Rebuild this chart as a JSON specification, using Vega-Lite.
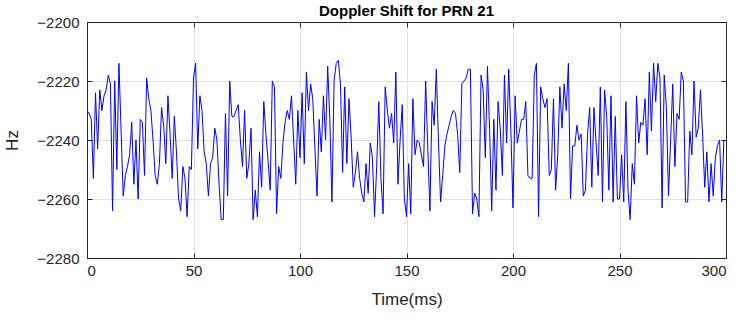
{
  "$schema": "https://vega.github.io/schema/vega-lite/v6.json",
  "autosize": "none",
  "width": 639,
  "height": 236,
  "padding": {"left": 87, "top": 22, "right": 18, "bottom": 62},
  "background": "white",
  "title": {"text": "Doppler Shift for PRN 21", "font": "Liberation Sans", "fontSize": 15, "fontWeight": "bold", "color": "#000000", "offset": -4},
  "config": {
    "view": {"stroke": "#262626", "strokeWidth": 1},
    "axis": {"labelFont": "Liberation Sans", "titleFont": "Liberation Sans", "labelFontSize": 15, "titleFontSize": 17, "titleFontWeight": "normal", "labelColor": "#262626", "titleColor": "#262626", "domainColor": "#262626", "tickColor": "#262626", "gridColor": "#e0e0e0", "gridOpacity": 1}
  },
  "data": {"values": [
{"t":0,"hz":-2230},{"t":1,"hz":-2231},{"t":2,"hz":-2233},{"t":3,"hz":-2253},{"t":4,"hz":-2224},{"t":5,"hz":-2243},{"t":6,"hz":-2223},{"t":7,"hz":-2230},{"t":8,"hz":-2225},{"t":9,"hz":-2223},
{"t":10,"hz":-2218},{"t":11,"hz":-2221},{"t":12,"hz":-2264},{"t":13,"hz":-2220},{"t":14,"hz":-2250},{"t":15,"hz":-2214},{"t":16,"hz":-2237},{"t":17,"hz":-2259},{"t":18,"hz":-2252},{"t":19,"hz":-2249},
{"t":20,"hz":-2245},{"t":21,"hz":-2234},{"t":22,"hz":-2255},{"t":23,"hz":-2240},{"t":24,"hz":-2260},{"t":25,"hz":-2233},{"t":26,"hz":-2234},{"t":27,"hz":-2252},{"t":28,"hz":-2219},{"t":29,"hz":-2226},
{"t":30,"hz":-2230},{"t":31,"hz":-2240},{"t":32,"hz":-2252},{"t":33,"hz":-2255},{"t":34,"hz":-2248},{"t":35,"hz":-2229},{"t":36,"hz":-2235},{"t":37,"hz":-2248},{"t":38,"hz":-2225},{"t":39,"hz":-2238},
{"t":40,"hz":-2253},{"t":41,"hz":-2232},{"t":42,"hz":-2244},{"t":43,"hz":-2260},{"t":44,"hz":-2264},{"t":45,"hz":-2249},{"t":46,"hz":-2253},{"t":47,"hz":-2266},{"t":48,"hz":-2249},{"t":49,"hz":-2250},
{"t":50,"hz":-2219},{"t":51,"hz":-2214},{"t":52,"hz":-2243},{"t":53,"hz":-2225},{"t":54,"hz":-2230},{"t":55,"hz":-2244},{"t":56,"hz":-2248},{"t":57,"hz":-2259},{"t":58,"hz":-2248},{"t":59,"hz":-2246},
{"t":60,"hz":-2236},{"t":61,"hz":-2240},{"t":62,"hz":-2255},{"t":63,"hz":-2267},{"t":64,"hz":-2267},{"t":65,"hz":-2231},{"t":66,"hz":-2259},{"t":67,"hz":-2220},{"t":68,"hz":-2232},{"t":69,"hz":-2232},
{"t":70,"hz":-2230},{"t":71,"hz":-2228},{"t":72,"hz":-2240},{"t":73,"hz":-2249},{"t":74,"hz":-2230},{"t":75,"hz":-2253},{"t":76,"hz":-2248},{"t":77,"hz":-2236},{"t":78,"hz":-2267},{"t":79,"hz":-2257},
{"t":80,"hz":-2266},{"t":81,"hz":-2244},{"t":82,"hz":-2256},{"t":83,"hz":-2227},{"t":84,"hz":-2238},{"t":85,"hz":-2247},{"t":86,"hz":-2257},{"t":87,"hz":-2220},{"t":88,"hz":-2222},{"t":89,"hz":-2265},
{"t":90,"hz":-2249},{"t":91,"hz":-2253},{"t":92,"hz":-2241},{"t":93,"hz":-2234},{"t":94,"hz":-2230},{"t":95,"hz":-2233},{"t":96,"hz":-2225},{"t":97,"hz":-2240},{"t":98,"hz":-2255},{"t":99,"hz":-2230},
{"t":100,"hz":-2246},{"t":101,"hz":-2224},{"t":102,"hz":-2248},{"t":103,"hz":-2217},{"t":104,"hz":-2230},{"t":105,"hz":-2221},{"t":106,"hz":-2226},{"t":107,"hz":-2243},{"t":108,"hz":-2259},{"t":109,"hz":-2233},
{"t":110,"hz":-2244},{"t":111,"hz":-2225},{"t":112,"hz":-2240},{"t":113,"hz":-2215},{"t":114,"hz":-2233},{"t":115,"hz":-2261},{"t":116,"hz":-2220},{"t":117,"hz":-2214},{"t":118,"hz":-2213},{"t":119,"hz":-2221},
{"t":120,"hz":-2251},{"t":121,"hz":-2222},{"t":122,"hz":-2248},{"t":123,"hz":-2226},{"t":124,"hz":-2239},{"t":125,"hz":-2256},{"t":126,"hz":-2251},{"t":127,"hz":-2244},{"t":128,"hz":-2253},{"t":129,"hz":-2258},
{"t":130,"hz":-2261},{"t":131,"hz":-2248},{"t":132,"hz":-2258},{"t":133,"hz":-2241},{"t":134,"hz":-2246},{"t":135,"hz":-2266},{"t":136,"hz":-2249},{"t":137,"hz":-2227},{"t":138,"hz":-2253},{"t":139,"hz":-2265},
{"t":140,"hz":-2222},{"t":141,"hz":-2230},{"t":142,"hz":-2236},{"t":143,"hz":-2231},{"t":144,"hz":-2241},{"t":145,"hz":-2217},{"t":146,"hz":-2255},{"t":147,"hz":-2240},{"t":148,"hz":-2228},{"t":149,"hz":-2260},
{"t":150,"hz":-2266},{"t":151,"hz":-2248},{"t":152,"hz":-2265},{"t":153,"hz":-2226},{"t":154,"hz":-2245},{"t":155,"hz":-2240},{"t":156,"hz":-2241},{"t":157,"hz":-2245},{"t":158,"hz":-2249},{"t":159,"hz":-2220},
{"t":160,"hz":-2243},{"t":161,"hz":-2264},{"t":162,"hz":-2227},{"t":163,"hz":-2235},{"t":164,"hz":-2216},{"t":165,"hz":-2240},{"t":166,"hz":-2261},{"t":167,"hz":-2252},{"t":168,"hz":-2242},{"t":169,"hz":-2238},
{"t":170,"hz":-2235},{"t":171,"hz":-2232},{"t":172,"hz":-2230},{"t":173,"hz":-2231},{"t":174,"hz":-2238},{"t":175,"hz":-2251},{"t":176,"hz":-2221},{"t":177,"hz":-2220},{"t":178,"hz":-2219},{"t":179,"hz":-2216},
{"t":180,"hz":-2216},{"t":181,"hz":-2265},{"t":182,"hz":-2258},{"t":183,"hz":-2260},{"t":184,"hz":-2266},{"t":185,"hz":-2218},{"t":186,"hz":-2223},{"t":187,"hz":-2246},{"t":188,"hz":-2215},{"t":189,"hz":-2236},
{"t":190,"hz":-2264},{"t":191,"hz":-2233},{"t":192,"hz":-2257},{"t":193,"hz":-2227},{"t":194,"hz":-2236},{"t":195,"hz":-2252},{"t":196,"hz":-2218},{"t":197,"hz":-2241},{"t":198,"hz":-2216},{"t":199,"hz":-2237},
{"t":200,"hz":-2263},{"t":201,"hz":-2225},{"t":202,"hz":-2241},{"t":203,"hz":-2237},{"t":204,"hz":-2233},{"t":205,"hz":-2233},{"t":206,"hz":-2227},{"t":207,"hz":-2252},{"t":208,"hz":-2253},{"t":209,"hz":-2253},
{"t":210,"hz":-2218},{"t":211,"hz":-2214},{"t":212,"hz":-2266},{"t":213,"hz":-2222},{"t":214,"hz":-2226},{"t":215,"hz":-2229},{"t":216,"hz":-2226},{"t":217,"hz":-2252},{"t":218,"hz":-2250},{"t":219,"hz":-2226},
{"t":220,"hz":-2257},{"t":221,"hz":-2245},{"t":222,"hz":-2222},{"t":223,"hz":-2236},{"t":224,"hz":-2221},{"t":225,"hz":-2230},{"t":226,"hz":-2214},{"t":227,"hz":-2260},{"t":228,"hz":-2242},{"t":229,"hz":-2242},
{"t":230,"hz":-2235},{"t":231,"hz":-2240},{"t":232,"hz":-2238},{"t":233,"hz":-2259},{"t":234,"hz":-2257},{"t":235,"hz":-2238},{"t":236,"hz":-2229},{"t":237,"hz":-2256},{"t":238,"hz":-2229},{"t":239,"hz":-2241},
{"t":240,"hz":-2252},{"t":241,"hz":-2222},{"t":242,"hz":-2261},{"t":243,"hz":-2223},{"t":244,"hz":-2232},{"t":245,"hz":-2257},{"t":246,"hz":-2225},{"t":247,"hz":-2261},{"t":248,"hz":-2232},{"t":249,"hz":-2260},
{"t":250,"hz":-2260},{"t":251,"hz":-2245},{"t":252,"hz":-2261},{"t":253,"hz":-2227},{"t":254,"hz":-2257},{"t":255,"hz":-2267},{"t":256,"hz":-2248},{"t":257,"hz":-2255},{"t":258,"hz":-2225},{"t":259,"hz":-2241},
{"t":260,"hz":-2234},{"t":261,"hz":-2235},{"t":262,"hz":-2226},{"t":263,"hz":-2245},{"t":264,"hz":-2217},{"t":265,"hz":-2237},{"t":266,"hz":-2214},{"t":267,"hz":-2227},{"t":268,"hz":-2214},{"t":269,"hz":-2219},
{"t":270,"hz":-2263},{"t":271,"hz":-2218},{"t":272,"hz":-2229},{"t":273,"hz":-2259},{"t":274,"hz":-2240},{"t":275,"hz":-2221},{"t":276,"hz":-2249},{"t":277,"hz":-2231},{"t":278,"hz":-2233},{"t":279,"hz":-2217},
{"t":280,"hz":-2220},{"t":281,"hz":-2261},{"t":282,"hz":-2261},{"t":283,"hz":-2237},{"t":284,"hz":-2245},{"t":285,"hz":-2220},{"t":286,"hz":-2239},{"t":287,"hz":-2236},{"t":288,"hz":-2223},{"t":289,"hz":-2238},
{"t":290,"hz":-2256},{"t":291,"hz":-2244},{"t":292,"hz":-2261},{"t":293,"hz":-2248},{"t":294,"hz":-2259},{"t":295,"hz":-2246},{"t":296,"hz":-2242},{"t":297,"hz":-2240},{"t":298,"hz":-2261},{"t":299,"hz":-2240}
  ]},
  "layer": [
    {
      "mark": {"type": "line", "color": "#0000ff", "strokeWidth": 1, "clip": true},
      "encoding": {
        "x": {"field": "t", "type": "quantitative", "scale": {"domain": [0, 300], "nice": false, "zero": false},
              "axis": {"title": "Time(ms)", "values": [0, 50, 100, 150, 200, 250, 300], "format": "d", "tickSize": -5, "labelPadding": 10, "titlePadding": 13, "grid": true, "domain": true}},
        "y": {"field": "hz", "type": "quantitative", "scale": {"domain": [-2280, -2200], "nice": false, "zero": false},
              "axis": {"title": "Hz", "values": [-2280, -2260, -2240, -2220, -2200], "format": "d", "tickSize": -5, "labelPadding": 13, "titlePadding": 15, "grid": true, "domain": true}}
      }
    },
    {
      "mark": {"type": "line", "strokeOpacity": 0, "clip": true},
      "encoding": {
        "x": {"field": "t", "type": "quantitative", "axis": {"orient": "top", "title": null, "labels": false, "values": [0, 50, 100, 150, 200, 250, 300], "tickSize": -5, "grid": false}},
        "y": {"field": "hz", "type": "quantitative", "axis": {"orient": "right", "title": null, "labels": false, "values": [-2280, -2260, -2240, -2220, -2200], "tickSize": -5, "grid": false}}
      }
    }
  ],
  "resolve": {"axis": {"x": "independent", "y": "independent"}}
}
